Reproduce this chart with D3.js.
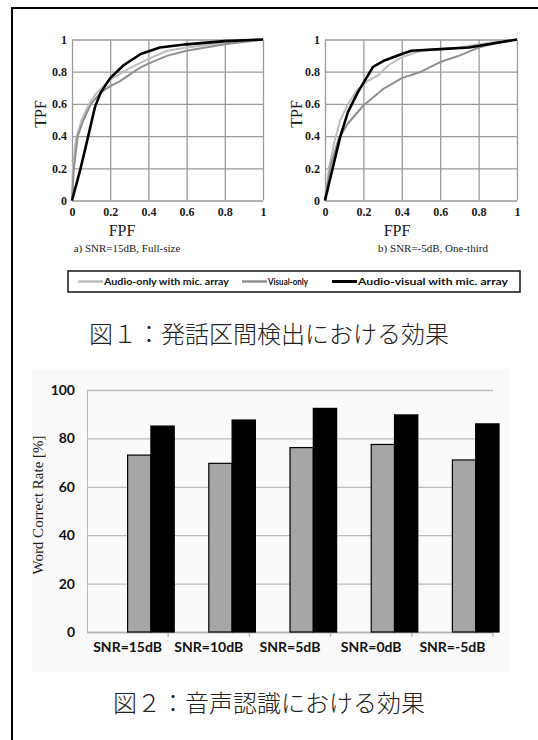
<!DOCTYPE html>
<html>
<head>
<meta charset="utf-8">
<script src="https://cdn.jsdelivr.net/npm/d3@7"></script>
<style>
  body { margin: 0; background: #fff; }
  svg { display: block; }
</style>
</head>
<body>
<svg id="fig" width="538" height="740"></svg>
<script>
// ROC data (FPF, TPF)
const rocTicks = [0, 0.2, 0.4, 0.6, 0.8, 1];
const rocNames = ["Audio-only with mic. array", "Visual-only", "Audio-visual with mic. array"];

const rocA_audioOnly = [[0,0],[0.005,0.2],[0.02,0.38],[0.05,0.5],[0.09,0.6],[0.13,0.67],[0.2,0.75],[0.3,0.82],[0.4,0.88],[0.5,0.93],[0.6,0.95],[0.8,0.98],[1,1]];
const rocA_visual = [[0,0],[0.01,0.2],[0.03,0.4],[0.06,0.5],[0.1,0.6],[0.15,0.67],[0.2,0.71],[0.25,0.74],[0.3,0.78],[0.35,0.82],[0.4,0.85],[0.5,0.9],[0.6,0.93],[0.8,0.97],[1,1]];
const rocA_av = [[0,0],[0.045,0.2],[0.085,0.4],[0.12,0.58],[0.15,0.67],[0.2,0.76],[0.27,0.84],[0.36,0.91],[0.46,0.95],[0.6,0.97],[0.8,0.99],[1,1]];

const rocB_audioOnly = [[0,0],[0.02,0.2],[0.05,0.37],[0.08,0.5],[0.12,0.6],[0.17,0.69],[0.22,0.74],[0.28,0.78],[0.33,0.84],[0.4,0.89],[0.5,0.93],[0.6,0.94],[0.7,0.95],[0.8,0.97],[1,1]];
const rocB_visual = [[0,0],[0.03,0.22],[0.07,0.38],[0.12,0.48],[0.2,0.59],[0.3,0.69],[0.4,0.76],[0.5,0.8],[0.6,0.86],[0.7,0.9],[0.8,0.95],[0.9,0.98],[1,1]];
const rocB_av = [[0,0],[0.04,0.2],[0.08,0.4],[0.12,0.55],[0.17,0.67],[0.25,0.83],[0.31,0.87],[0.4,0.91],[0.45,0.93],[0.6,0.94],[0.75,0.95],[0.85,0.97],[1,1]];

// Word correct rate bars
const snrLabels = ["SNR=15dB", "SNR=10dB", "SNR=5dB", "SNR=0dB", "SNR=-5dB"];
const wcrGrey = [73.1, 69.7, 76.2, 77.5, 71.1];
const wcrBlack = [85.1, 87.6, 92.4, 89.7, 86.0];
const wcrTicks = [0, 20, 40, 60, 80, 100];

const serif = "'Liberation Serif', 'DejaVu Serif', serif";
const sans = "Lato, 'Open Sans', sans-serif";
const cjk = "'Noto Sans CJK JP', sans-serif";

const svg = d3.select("#fig");

// outer frame (left and top edges only are visible)
svg.append("path")
  .attr("d", "M12,740 L12,8 L538,8")
  .attr("fill", "none")
  .attr("stroke", "#000")
  .attr("stroke-width", 2);

// one ROC panel
function drawRoc(opts) {
  const x = d3.scaleLinear().domain([0, 1]).range(opts.xr);
  const y = d3.scaleLinear().domain([0, 1]).range([200.5, 39.5]);
  const g = svg.append("g");

  // grid + tick labels
  const yAxis = g.append("g")
    .attr("transform", `translate(${opts.xr[0]},0)`)
    .call(d3.axisLeft(y).tickValues(rocTicks).tickSize(-(opts.xr[1] - opts.xr[0])).tickPadding(5).tickFormat(d => String(d)));
  const xAxis = g.append("g")
    .attr("transform", "translate(0,200.5)")
    .call(d3.axisBottom(x).tickValues(rocTicks).tickSize(-161).tickPadding(7).tickFormat(d => String(d)));
  [xAxis, yAxis].forEach(a => {
    a.select(".domain").remove();
    a.selectAll("line").attr("stroke", "#9a9a9a").attr("stroke-width", 1.3);
    a.selectAll("text").style("font-family", serif).style("font-size", "12px")
      .style("font-weight", "bold").attr("fill", "#1a1a1a");
  });

  const line = d3.line().x(d => x(d[0])).y(d => y(d[1]));
  const series = [
    { data: opts.audioOnly, color: "#bdbdbd", w: 2 },
    { data: opts.visual, color: "#8f8f8f", w: 2 },
    { data: opts.av, color: "#000", w: 2.6 }
  ];
  g.selectAll(".roc").data(series).enter().append("path")
    .attr("class", "roc")
    .attr("d", d => line(d.data))
    .attr("fill", "none")
    .attr("stroke", d => d.color)
    .attr("stroke-width", d => d.w)
    .attr("stroke-linejoin", "round");

  g.append("text")
    .attr("transform", `translate(${opts.tpfX},114) rotate(-90)`)
    .attr("text-anchor", "middle").attr("dominant-baseline", "middle")
    .style("font-family", serif).style("font-size", "16px").attr("fill", "#1a1a1a")
    .text("TPF");
  g.append("text")
    .attr("x", opts.fpfX).attr("y", 236)
    .attr("text-anchor", "middle")
    .style("font-family", serif).style("font-size", "16px").attr("fill", "#1a1a1a")
    .text("FPF");
  g.append("text")
    .attr("x", opts.capX).attr("y", 252)
    .attr("text-anchor", "middle")
    .style("font-family", serif).style("font-size", "11px").attr("fill", "#1a1a1a")
    .text(opts.caption);
}

drawRoc({ xr: [72, 263], audioOnly: rocA_audioOnly, visual: rocA_visual, av: rocA_av,
  tpfX: 42, fpfX: 122, capX: 127, caption: "a) SNR=15dB, Full-size" });
drawRoc({ xr: [325, 517], audioOnly: rocB_audioOnly, visual: rocB_visual, av: rocB_av,
  tpfX: 298, fpfX: 397, capX: 433, caption: "b) SNR=-5dB, One-third" });

// legend
const legend = svg.append("g");
legend.append("rect")
  .attr("x", 68).attr("y", 271).attr("width", 452).attr("height", 21)
  .attr("fill", "#fff").attr("stroke", "#222").attr("stroke-width", 1.6);
const legendItems = [
  { name: rocNames[0], color: "#bdbdbd", w: 2.5, x: 78, tw: 125 },
  { name: rocNames[1], color: "#8f8f8f", w: 2.5, x: 242, tw: 40 },
  { name: rocNames[2], color: "#000", w: 3, x: 332, tw: 150 }
];
legendItems.forEach(d => {
  legend.append("line")
    .attr("x1", d.x).attr("x2", d.x + 25).attr("y1", 281.5).attr("y2", 281.5)
    .attr("stroke", d.color).attr("stroke-width", d.w);
  legend.append("text")
    .attr("x", d.x + 26).attr("y", 285)
    .attr("textLength", d.tw).attr("lengthAdjust", "spacingAndGlyphs")
    .style("font-family", sans).style("font-size", "9.5px").style("font-weight", "bold")
    .attr("fill", "#111")
    .text(d.name);
});

svg.append("text")
  .attr("x", 269).attr("y", 343)
  .attr("text-anchor", "middle")
  .style("font-family", cjk).style("font-size", "24px").style("font-weight", 300)
  .attr("fill", "#222")
  .text("図１：発話区間検出における効果");

// bar chart
const barX = d3.scaleBand().domain(snrLabels).range([87, 493]).paddingInner(0).paddingOuter(0);
const barY = d3.scaleLinear().domain([0, 100]).range([632, 390]);
const barW = barX.bandwidth() * 0.287;

svg.append("rect")
  .attr("x", 32).attr("y", 369).attr("width", 478).attr("height", 303)
  .attr("fill", "#fafafa");

const by = svg.append("g")
  .attr("transform", "translate(87,0)")
  .call(d3.axisLeft(barY).tickValues(wcrTicks).tickSize(-(493 - 87)).tickPadding(12));
by.select(".domain").attr("stroke", "#b5b5b5");
by.selectAll("line").attr("stroke", "#bdbdbd").attr("stroke-width", 1.3);
by.selectAll("text").style("font-family", sans).style("font-size", "14px")
  .style("font-weight", "bold").attr("fill", "#111");

const bx = svg.append("g")
  .attr("transform", "translate(0,632)")
  .call(d3.axisBottom(barX).tickSize(0).tickPadding(10));
bx.select(".domain").attr("stroke", "#b5b5b5").attr("stroke-width", 1.3);
bx.selectAll("text").style("font-family", sans).style("font-size", "14px")
  .style("font-weight", "bold").attr("fill", "#111");
bx.selectAll(".sep").data(snrLabels).enter().append("line")
  .attr("class", "sep")
  .attr("x1", d => barX(d) + barX.bandwidth()).attr("x2", d => barX(d) + barX.bandwidth())
  .attr("y1", 0).attr("y2", 5)
  .attr("stroke", "#b5b5b5").attr("stroke-width", 1.3);

const bars = svg.append("g");
bars.selectAll(".gbar").data(snrLabels).enter().append("rect")
  .attr("class", "gbar")
  .attr("x", d => barX(d) + barX.bandwidth() / 2)
  .attr("y", (d, i) => barY(wcrGrey[i]))
  .attr("width", barW)
  .attr("height", (d, i) => barY(0) - barY(wcrGrey[i]))
  .attr("fill", "#a6a6a6").attr("stroke", "#000").attr("stroke-width", 1.2);
bars.selectAll(".kbar").data(snrLabels).enter().append("rect")
  .attr("class", "kbar")
  .attr("x", d => barX(d) + barX.bandwidth() / 2 + barW)
  .attr("y", (d, i) => barY(wcrBlack[i]))
  .attr("width", barW)
  .attr("height", (d, i) => barY(0) - barY(wcrBlack[i]))
  .attr("fill", "#000").attr("stroke", "#000").attr("stroke-width", 1.2);

svg.append("text")
  .attr("transform", "translate(40,505) rotate(-90)")
  .attr("text-anchor", "middle").attr("dominant-baseline", "middle")
  .style("font-family", serif).style("font-size", "15px").attr("fill", "#222")
  .text("Word Correct Rate [%]");

svg.append("text")
  .attr("x", 269).attr("y", 712)
  .attr("text-anchor", "middle")
  .style("font-family", cjk).style("font-size", "24px").style("font-weight", 300)
  .attr("fill", "#222")
  .text("図２：音声認識における効果");
</script>
</body>
</html>
